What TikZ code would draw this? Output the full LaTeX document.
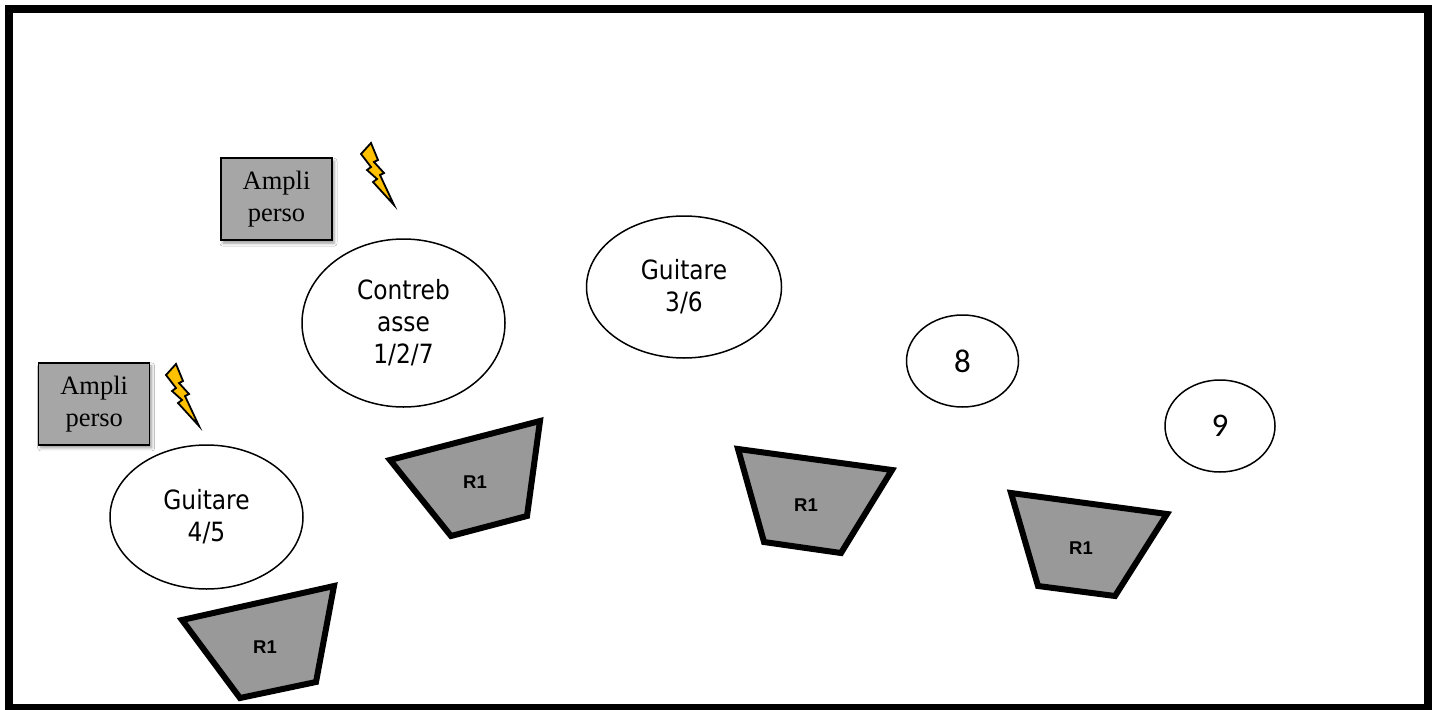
\documentclass[tikz,border=0pt]{standalone}
\usepackage{fontspec}
\setmainfont{Liberation Serif}
\newfontfamily\tahfont[FakeStretch=0.88]{DejaVu Sans}
\newfontfamily\calfont{Carlito}
\newfontfamily\arifont{Liberation Sans}
\usetikzlibrary{shapes.geometric,shadows.blur}
\definecolor{ampgray}{HTML}{A6A6A6}
\definecolor{spkgray}{HTML}{999999}
\definecolor{boltyellow}{HTML}{FFC000}
\tikzset{
  amplibox/.style={draw=black, line width=1.5pt, fill=ampgray, minimum width=111pt, minimum height=82pt,
    inner sep=0pt, align=center, font=\fontsize{26.5}{32}\selectfont,
    blur shadow={shadow xshift=2pt, shadow yshift=-3pt, shadow blur radius=3pt, shadow opacity=40}},
  musician/.style={ellipse, draw=black, line width=1.5pt, fill=white, inner sep=0pt, align=center,
    font=\tahfont\fontsize{26.5}{32}\selectfont},
  numbered/.style={ellipse, draw=black, line width=1.5pt, fill=white, inner sep=0pt,
    font=\calfont\fontsize{33}{36}\selectfont},
  wedgebox/.style={draw=black, line width=6pt, fill=spkgray, line join=miter},
  wedgelabel/.style={font=\arifont\bfseries\fontsize{18.5}{22}\selectfont, inner sep=0pt},
  boltshape/.style={draw=black, line width=1.8pt, fill=boltyellow, line join=miter},
  frameline/.style={draw=black, line width=8pt}
}
\begin{document}
\begin{tikzpicture}[x=1pt,y=-1pt]
\useasboundingbox (0,0) rectangle (1439,709);
\fill[white] (0,0) rectangle (1439,709);
\draw[frameline] (9,9) rectangle (1428,708);

% amplifiers
\node[amplibox] (ampli1) at (276.5,199.2) {Ampli\\perso};
\node[amplibox] (ampli2) at (94.2,403.9) {Ampli\\perso};

% lightning bolts
\draw[boltshape, shift={(361,143)}] (0,11) -- (10,0) -- (17,17) -- (13,19) -- (23,30) -- (19,32)
  -- (33,62) -- (12,39) -- (16,36) -- (6,27) -- (10,24) -- cycle;
\draw[boltshape, shift={(166,364)}] (0,11) -- (10,0) -- (17,17) -- (13,19) -- (23,30) -- (19,32)
  -- (33,62) -- (12,39) -- (16,36) -- (6,27) -- (10,24) -- cycle;

% musicians
\node[musician, minimum width=203pt, minimum height=168pt] (contre) at (403.5,323) {Contreb\\asse\\1/2/7};
\node[musician, minimum width=195pt, minimum height=142pt] (g36) at (684,287) {Guitare\\3/6};
\node[musician, minimum width=193pt, minimum height=144pt] (g45) at (206.5,517) {Guitare\\4/5};
\node[numbered, minimum width=112pt, minimum height=92pt] (n8) at (962.5,361) {8};
\node[numbered, minimum width=110pt, minimum height=92pt] (n9) at (1220,426) {9};

% monitors
\draw[wedgebox] (182,620) -- (334,586) -- (316,682) -- (240,698) -- cycle;
\node[wedgelabel] (r1a) at (265,647) {R1};
\draw[wedgebox] (390,460) -- (540,421) -- (527,516) -- (451,536) -- cycle;
\node[wedgelabel] (r1b) at (475,482) {R1};
\draw[wedgebox] (738,449) -- (892,470) -- (841,553) -- (764,542) -- cycle;
\node[wedgelabel] (r1c) at (806,505) {R1};
\draw[wedgebox] (1011,493) -- (1167,514) -- (1115,596) -- (1038,586) -- cycle;
\node[wedgelabel] (r1d) at (1081,548) {R1};
\end{tikzpicture}
\end{document}
